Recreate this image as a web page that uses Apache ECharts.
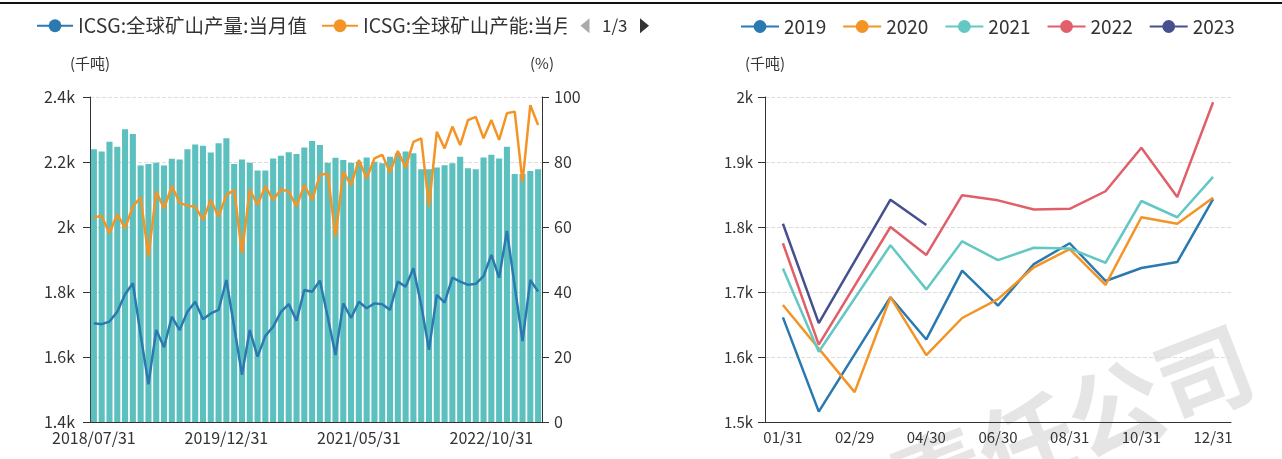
<!DOCTYPE html>
<html>
<head>
<meta charset="utf-8">
<script src="https://cdn.jsdelivr.net/npm/echarts@6/dist/echarts.min.js"></script>
<style>
  html, body { margin: 0; padding: 0; background: #fff; }
  #topline { position: absolute; left: 0; top: 2px; width: 1282px; height: 2px; background: #111; }
  #left { position: absolute; left: 0; top: 0; width: 666px; height: 459px; }
  #right { position: absolute; left: 660px; top: 0; width: 622px; height: 459px; }
</style>
</head>
<body>
<div id="topline"></div>
<div id="right"></div>
<div id="left"></div>
<script>
// 左图：月度类目 2018/07/31 ~ 2023/04/30
var monthEnds = [];
for (var y = 2018, m = 7; y < 2023 || (y === 2023 && m <= 4); m++) {
  if (m > 12) { m = 1; y++; }
  var d = new Date(y, m, 0).getDate();
  monthEnds.push(y + '/' + (m < 10 ? '0' + m : m) + '/' + d);
}

// ICSG:全球矿山产量:当月值（千吨）
var mineOutput = [
  1704, 1701, 1709, 1739, 1793, 1827, 1668, 1516, 1683, 1630,
  1724, 1683, 1739, 1770, 1716, 1734, 1745, 1837, 1693, 1545,
  1683, 1601, 1665, 1693, 1739, 1763, 1712, 1806, 1801, 1835,
  1724, 1606, 1765, 1720, 1770, 1750, 1765, 1762, 1745, 1832,
  1816, 1873, 1760, 1622, 1791, 1767, 1844, 1832, 1822, 1825,
  1849, 1914, 1844, 1988, 1818, 1649, 1837, 1801
];
// ICSG:全球矿山产能:当月值（千吨）
var mineCapacity = [
  2030, 2034, 1981, 2040, 1996, 2063, 2091, 1909, 2109, 2057,
  2126, 2075, 2065, 2063, 2022, 2083, 2032, 2098, 2114, 1919,
  2114, 2068, 2126, 2083, 2116, 2109, 2063, 2129, 2083, 2160,
  2165, 1970, 2170, 2129, 2206, 2150, 2211, 2222, 2168, 2234,
  2183, 2262, 2273, 2063, 2293, 2242, 2309, 2252, 2329, 2339,
  2273, 2329, 2268, 2350, 2355, 2139, 2375, 2314
];
// ICSG:全球矿山产能利用率:当月值（%）
var utilization = [
  83.9, 83.2, 86.2, 84.7, 90.1, 88.6, 78.9, 79.4, 79.8, 78.9,
  81.0, 80.8, 83.9, 85.4, 85.0, 82.9, 85.8, 87.3, 79.4, 80.8,
  79.8, 77.4, 77.4, 81.1, 81.9, 83.0, 82.5, 84.5, 86.5, 85.2,
  79.8, 81.3, 80.6, 79.8, 80.1, 81.4, 80.1, 79.6, 81.6, 82.7,
  83.2, 82.7, 77.8, 77.8, 78.3, 79.0, 79.6, 81.6, 78.1, 77.8,
  81.4, 82.2, 81.1, 84.7, 76.3, 76.3, 77.2, 77.8
];

// 右图：季节性
var dayCats = ['01/31', '02/28', '02/29', '03/31', '04/30', '05/31', '06/30',
               '07/31', '08/31', '09/30', '10/31', '11/30', '12/31'];
var y2019 = [1661, 1516, null, 1692, 1627, 1733, 1679, 1743, 1775, 1717, 1737, 1746, 1843];
var y2020 = [1680, null, 1546, 1692, 1603, 1660, 1689, 1738, 1766, 1711, 1815, 1805, 1845];
var y2021 = [1736, 1608, null, 1772, 1704, 1778, 1749, 1768, 1767, 1745, 1840, 1815, 1877];
var y2022 = [1775, 1619, null, 1800, 1757, 1849, 1841, 1827, 1828, 1855, 1922, 1846, 1992];
var y2023 = [1805, 1652, null, 1842, 1803, null, null, null, null, null, null, null, null];

var FONT = 'Noto Sans CJK SC';
var axisText = { color: '#333', fontSize: 15, fontFamily: FONT };
var kFmt = function (v) { return (v / 1000) + 'k'; };

var leftChart = echarts.init(document.getElementById('left'));
leftChart.setOption({
  animation: false,
  color: ['#2a79b0', '#f39424', '#5cc0bf'],
  legend: {
    type: 'scroll',
    left: 31,
    top: 11,
    width: 613,
    itemWidth: 36,
    itemHeight: 16,
    itemGap: 14,
    textStyle: { color: '#333', fontSize: 19.5, fontFamily: FONT },
    pageIconColor: '#333',
    pageIconInactiveColor: '#aaa',
    pageIconSize: 15,
    pageTextStyle: { color: '#333', fontSize: 17, fontFamily: FONT },
    data: ['ICSG:全球矿山产量:当月值', 'ICSG:全球矿山产能:当月值', 'ICSG:全球矿山产能利用率:当月值']
  },
  grid: { left: 90, right: 124, top: 97, bottom: 37 },
  xAxis: {
    type: 'category',
    data: monthEnds,
    axisLine: { lineStyle: { color: '#333' } },
    axisTick: { interval: 16, length: 6, lineStyle: { color: '#333' } },
    axisLabel: Object.assign({ interval: 16 }, axisText, { fontSize: 16 })
  },
  yAxis: [{
    type: 'value',
    name: '(千吨)',
    nameGap: 26,
    nameTextStyle: axisText,
    min: 1400, max: 2400, interval: 200,
    axisLine: { show: true, lineStyle: { color: '#333' } },
    axisTick: { show: true, length: 7, lineStyle: { color: '#333' } },
    axisLabel: Object.assign({ formatter: kFmt, margin: 15 }, axisText, { fontSize: 16 }),
    splitLine: { lineStyle: { type: 'dashed', color: '#ddd' } }
  }, {
    type: 'value',
    name: '(%)',
    nameGap: 26,
    nameTextStyle: axisText,
    min: 0, max: 100, interval: 20,
    axisLine: { show: true, lineStyle: { color: '#333' } },
    axisTick: { show: true, length: 7, lineStyle: { color: '#333' } },
    axisLabel: Object.assign({ margin: 12 }, axisText, { fontSize: 16 }),
    splitLine: { show: false }
  }],
  series: [{
    name: 'ICSG:全球矿山产量:当月值',
    type: 'line',
    data: mineOutput,
    symbol: 'circle',
    showSymbol: false,
    z: 3,
    lineStyle: { width: 2.5 }
  }, {
    name: 'ICSG:全球矿山产能:当月值',
    type: 'line',
    data: mineCapacity,
    symbol: 'circle',
    showSymbol: false,
    z: 3,
    lineStyle: { width: 2.5 }
  }, {
    name: 'ICSG:全球矿山产能利用率:当月值',
    type: 'bar',
    yAxisIndex: 1,
    data: utilization,
    barCategoryGap: '22%',
    z: 1
  }]
});

var rightChart = echarts.init(document.getElementById('right'));
var lineOf = function (name, data) {
  return {
    name: name, type: 'line', data: data,
    symbol: 'circle', showSymbol: false, connectNulls: true,
    lineStyle: { width: 2.5 }
  };
};
rightChart.setOption({
  animation: false,
  color: ['#2a79b0', '#f39424', '#63c8c3', '#e05f68', '#46508f'],
  legend: {
    left: 75,
    top: 12,
    itemWidth: 38,
    itemHeight: 16,
    itemGap: 16,
    textStyle: { color: '#333', fontSize: 19, fontFamily: FONT }
  },
  grid: { left: 105, right: 51, top: 97, bottom: 37 },
  graphic: [{
    type: 'text',
    x: 588, y: 357,
    rotation: 0.37,
    z: -10,
    silent: true,
    style: {
      text: '有限责任公司',
      align: 'right',
      verticalAlign: 'middle',
      fill: 'rgba(0,0,0,0.1)',
      fontSize: 95,
      fontWeight: 'bold',
      fontFamily: FONT
    }
  }],
  xAxis: {
    type: 'category',
    data: dayCats,
    axisLine: { lineStyle: { color: '#333' } },
    axisTick: { interval: 1, length: 7, lineStyle: { color: '#333' } },
    axisLabel: Object.assign({ interval: 1 }, axisText)
  },
  yAxis: {
    type: 'value',
    name: '(千吨)',
    nameGap: 26,
    nameTextStyle: axisText,
    min: 1500, max: 2000, interval: 100,
    axisLine: { show: true, lineStyle: { color: '#333' } },
    axisTick: { show: true, length: 7, lineStyle: { color: '#333' } },
    axisLabel: Object.assign({ formatter: kFmt, margin: 12 }, axisText),
    splitLine: { lineStyle: { type: 'dashed', color: '#ddd' } }
  },
  series: [
    lineOf('2019', y2019),
    lineOf('2020', y2020),
    lineOf('2021', y2021),
    lineOf('2022', y2022),
    lineOf('2023', y2023)
  ]
});
</script>
</body>
</html>
